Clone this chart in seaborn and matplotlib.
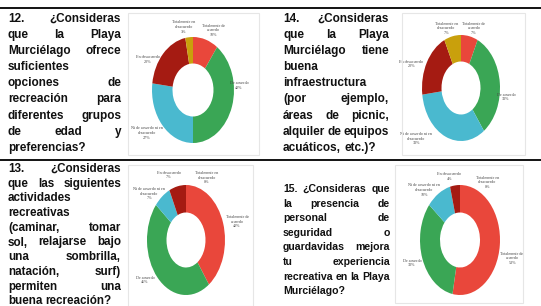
import matplotlib
matplotlib.use("Agg")
import matplotlib.pyplot as plt
from matplotlib import font_manager
from matplotlib.patches import Rectangle
from matplotlib.lines import Line2D
import seaborn as sns

# survey answers, in the order they go round each donut (clockwise from top)
categories = [
    "Totalmente de\nacuerdo",
    "De acuerdo",
    "Ni de acuerdo ni en\ndesacuerdo",
    "En desacuerdo",
    "Totalmente en\ndesacuerdo",
]
q12 = [10, 40, 27, 20, 3]
q14 = [7, 33, 33, 20, 7]
q13 = [40, 46, 7, 7, 0]
q15 = [53, 33, 10, 4, 0]

text12 = ["12. ¿Consideras", "que la Playa", "Murciélago ofrece", "suficientes",
          "opciones de", "recreación para", "diferentes grupos", "de edad y",
          "preferencias?"]
text14 = ["14. ¿Consideras", "que la Playa", "Murciélago tiene", "buena",
          "infraestructura", "(por ejemplo,", "áreas de picnic,",
          "alquiler de equipos", "acuáticos, etc.)?"]
text13 = ["13. ¿Consideras", "que las siguientes", "actividades", "recreativas",
          "(caminar, tomar", "sol, relajarse bajo", "una sombrilla,",
          "natación, surf)", "permiten una", "buena recreación?"]
text15 = ["15. ¿Consideras que", "la presencia de", "personal de", "seguridad o",
          "guardavidas mejora", "tu experiencia", "recreativa en la Playa",
          "Murciélago?"]

colors = ["#E9473B", "#3AA655", "#4AB9CF", "#A51B12", "#C9A00C"]

sns.set_style("white")
W, H = 541, 306
fig = plt.figure(figsize=(W / 100, H / 100), dpi=100)
fig.patch.set_facecolor("white")

names = {f.name for f in font_manager.fontManager.ttflist}
if "Liberation Sans Narrow" in names:
    body = dict(family="Liberation Sans Narrow", weight="bold")
    scale = 1.0
else:
    body = dict(family="Liberation Sans", weight="bold")
    scale = 0.85


def fx(x):
    return x / W


def fy(y):
    return 1 - y / H


# table rules
for y in [8, 160]:
    fig.add_artist(Line2D([0, 1], [fy(y), fy(y)], color="black", lw=1.3))


def paragraph(lines, x0, x1, base0, dy, size):
    r = fig.canvas.get_renderer()
    kw = dict(body, size=size * scale)
    sp = fig.text(0, 0, "a a", **kw)
    one = fig.text(0, 0, "aa", **kw)
    space_w = sp.get_window_extent(r).width - one.get_window_extent(r).width
    sp.remove()
    one.remove()
    for i, line in enumerate(lines):
        words = line.split()
        widths = []
        for w in words:
            t = fig.text(0, 0, w, **kw)
            widths.append(t.get_window_extent(r).width)
            t.remove()
        if len(words) == 1 or i == len(lines) - 1:
            gap = space_w
        else:
            gap = (x1 - x0 - sum(widths)) / (len(words) - 1)
        x = x0
        y = base0 + i * dy
        for w, wd in zip(words, widths):
            fig.text(fx(x), fy(y), w, va="baseline", ha="left", color="#111111", **kw)
            x += wd + gap


paragraph(text12, 8, 121, 22, 16.1, 10.0)
paragraph(text14, 283, 389, 22, 16.1, 10.0)
paragraph(text13, 8, 121, 172, 14.7, 9.8)
paragraph(text15, 283, 390, 192, 14.6, 8.9)


def donut(values, box, centre, label_pos):
    x0, y0, x1, y1 = box
    fig.add_artist(Rectangle((fx(x0), fy(y1)), fx(x1 - x0), (y1 - y0) / H,
                             fill=False, ec="#e6e6e6", lw=0.8))
    cx, cy, rx, ry = centre
    ax = fig.add_axes([fx(cx - rx), fy(cy + ry), 2 * rx / W, 2 * ry / H])
    labels = [f"{c}\n{v}%" for c, v in zip(categories, values)]
    wedges, texts = ax.pie(values, labels=labels, colors=colors, startangle=90,
                           counterclock=False, radius=1,
                           wedgeprops=dict(width=0.5, edgecolor="none"),
                           textprops=dict(family="Liberation Serif", size=3.0,
                                          color="#444444"))
    for t, (px, py) in zip(texts, label_pos):
        t.set_position((px, py))
        t.set_ha("center")
        t.set_va("center")
        t.set_multialignment("center")
        t.set_clip_on(False)
    ax.set_aspect("auto")
    ax.set_xlim(-1, 1)
    ax.set_ylim(-1, 1)
    ax.axis("off")


donut(q12, (128, 13, 259, 155), (193, 90, 41, 53),
      [(0.49, 1.13), (1.12, 0.09), (-1.12, -0.81), (-1.1, 0.58), (-0.22, 1.19)])
donut(q14, (402, 13, 525, 155), (461, 88, 39, 53),
      [(0.33, 1.13), (1.15, -0.17), (-1.15, -0.96), (-1.28, 0.45), (-0.38, 1.13)])
donut(q13, (128, 165, 253, 306), (186, 240, 39, 55),
      [(1.31, 0.33), (-1.05, -0.73), (-0.95, 0.84), (-0.44, 1.18), (0.54, 1.13)])
donut(q15, (395, 165, 523, 303), (460, 240, 40, 55),
      [(1.3, -0.33), (-1.2, -0.42), (-0.9, 0.91), (-0.27, 1.16), (0.68, 1.05)])

fig.savefig("out.png", dpi=100, facecolor="white")
